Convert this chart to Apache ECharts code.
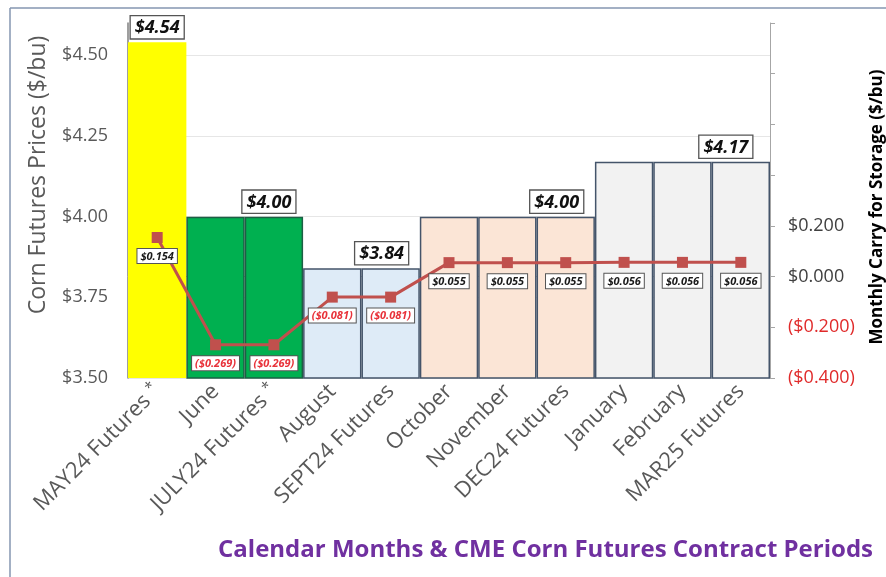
<!DOCTYPE html>
<html>
<head>
<meta charset="utf-8">
<script src="https://cdn.jsdelivr.net/npm/echarts@6/dist/echarts.min.js"></script>
<style>
html,body{margin:0;padding:0;background:#fff;}
#main{width:886px;height:577px;}
</style>
</head>
<body>
<div id="main"></div>
<script>
// ---- data ----
const categories = ['MAY24 Futures *','June','JULY24 Futures *','August','SEPT24 Futures','October','November','DEC24 Futures','January','February','MAR25 Futures'];
const prices = [4.54,4.00,4.00,3.84,3.84,4.00,4.00,4.00,4.17,4.17,4.17];
const carry = [0.154,-0.269,-0.269,-0.081,-0.081,0.055,0.055,0.055,0.056,0.056,0.056];
const priceLabelShown = [true,false,true,false,true,false,false,true,false,false,true];
const priceTicks = [3.5,3.75,4.0,4.25,4.5];
const carryTicks = [-0.4,-0.2,0.0,0.2];

// ---- styles ----
const barFill = ['#ffff00','#00b050','#00b050','#deebf7','#deebf7','#fbe5d6','#fbe5d6','#fbe5d6','#f2f2f2','#f2f2f2','#f2f2f2'];
const barBorder = ['#ffff00','#1d5f45','#1d5f45','#44546a','#44546a','#44546a','#44546a','#44546a','#44546a','#44546a','#44546a'];
const labelShift = [0,0,-5,0,-9,0,0,-9,0,0,-15];
const FONT = '"Open Sans", "Liberation Sans", sans-serif';

const chart = echarts.init(document.getElementById('main'), null, {renderer:'canvas'});

const barData = prices.map((v,i)=>({
  value: v,
  itemStyle: {color: barFill[i], borderColor: barBorder[i], borderWidth: i===0?0:1.5},
  label: {show: priceLabelShown[i], offset:[labelShift[i],0]}
}));

const lineData = carry.map(v=>({
  value: v,
  label: {color: v<0 ? '#e8323a' : '#1a1a1a'}
}));

const fmtCarry = v => v<0 ? '($' + Math.abs(v).toFixed(3) + ')' : '$' + v.toFixed(3);

chart.setOption({
  backgroundColor:'#ffffff',
  animation:false,
  grid:{left:128,right:116,top:23,bottom:199,containLabel:false},
  xAxis:{
    type:'category',
    data:categories,
    axisLine:{show:true,lineStyle:{color:'#bfbfbf',width:1}},
    axisTick:{show:false},
    axisLabel:{rotate:45,interval:0,margin:10,color:'#595959',fontSize:22,fontFamily:FONT,
      formatter:v=> v.endsWith(' *') ? '{a|'+v.slice(0,-2)+' }{s|*}' : '{a|'+v+'}',
      rich:{
        a:{color:'#595959',fontSize:22,fontFamily:FONT},
        s:{color:'#595959',fontSize:15,fontFamily:FONT,verticalAlign:'top',padding:[0,0,10,0]}
      }}
  },
  yAxis:[{
    type:'value',
    min:priceTicks[0],max:4.6,interval:0.25,
    axisLine:{show:true,lineStyle:{color:'#7f7f7f',width:1.5}},
    axisTick:{show:false},
    splitLine:{show:true,lineStyle:{color:['#e6e6e6','#e6e6e6','#e6e6e6','#e6e6e6','#e6e6e6','rgba(0,0,0,0)'],width:1}},
    axisLabel:{showMaxLabel:false,margin:20,color:'#595959',fontSize:18,fontFamily:FONT,
      formatter:v=> priceTicks.some(t=>Math.abs(t-v)<1e-9) ? '$'+v.toFixed(2) : ''}
  },{
    type:'value',
    position:'right',
    min:carryTicks[0],max:1.0,interval:0.2,
    axisLine:{show:true,lineStyle:{color:'#a6a6a6',width:1}},
    axisTick:{show:true,inside:false,length:5,lineStyle:{color:'#a6a6a6'}},
    splitLine:{show:false},
    axisLabel:{margin:18,fontSize:18,fontFamily:FONT,
      color:v=> v<-1e-9 ? '#e02a2a' : '#404040',
      formatter:v=> carryTicks.some(t=>Math.abs(t-v)<1e-9) ? fmtCarry(v) : ''}
  }],
  series:[{
    type:'bar',
    yAxisIndex:0,
    data:barData,
    barCategoryGap:'0%',
    barGap:'0%',
    z:2,
    label:{
      position:'top',
      distance:4,
      formatter:p=>'$'+p.value.toFixed(2),
      fontFamily:FONT,fontSize:18,fontWeight:'bold',fontStyle:'italic',color:'#111',
      backgroundColor:'#ffffff',borderColor:'#555',borderWidth:1.3,padding:[3,4,1,4]
    }
  },{
    type:'line',
    yAxisIndex:1,
    data:lineData,
    z:5,
    symbol:'rect',
    symbolSize:11,
    lineStyle:{color:'#c0504d',width:3},
    itemStyle:{color:'#c0504d'},
    label:{
      show:true,position:'bottom',distance:6,
      formatter:p=>fmtCarry(p.value),
      fontFamily:FONT,fontSize:11,fontWeight:'bold',fontStyle:'italic',
      backgroundColor:'#ffffff',borderColor:'#555',borderWidth:1,padding:[2,3,1,3]
    }
  }],
  graphic:[
    {type:'line',shape:{x1:10,y1:8,x2:886,y2:8},style:{stroke:'#8496b0',lineWidth:1.5},silent:true},
    {type:'line',shape:{x1:10,y1:8,x2:10,y2:577},style:{stroke:'#8496b0',lineWidth:1.5},silent:true},
    {type:'text',x:38,y:175,rotation:Math.PI/2,
      style:{text:'Corn Futures Prices ($/bu)',font:'23px '+FONT,fill:'#595959',align:'center',verticalAlign:'middle'}},
    {type:'text',x:877,y:207,rotation:Math.PI/2,
      style:{text:'Monthly Carry for Storage ($/bu)',font:'bold 17px '+FONT,fill:'#000',align:'center',verticalAlign:'middle'}},
    {type:'text',x:873,y:550,
      style:{text:'Calendar Months & CME Corn Futures Contract Periods',font:'bold 24px '+FONT,fill:'#7030a0',align:'right',verticalAlign:'middle'}}
  ]
});
</script>
</body>
</html>
